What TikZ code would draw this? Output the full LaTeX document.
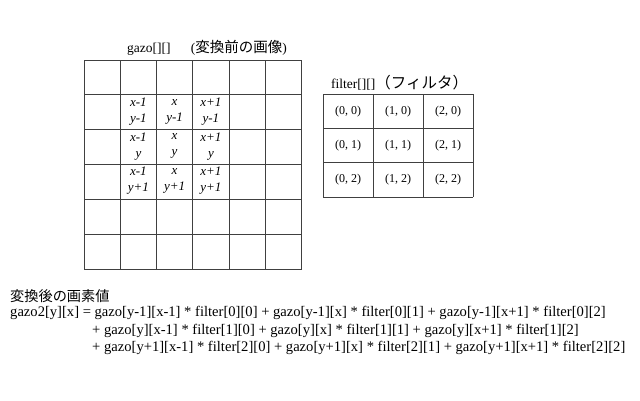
\documentclass[tikz,border=0pt]{standalone}
\usepackage{fontspec}
\setmainfont{Liberation Serif}
\newfontfamily\jp{Noto Sans CJK JP}
\begin{document}
\begin{tikzpicture}[x=1pt,y=-1pt,
  gline/.style={draw=black!75,line width=0.8pt},
  title/.style={font=\fontsize{13.5}{15}\selectfont,inner sep=0pt,anchor=west},
  cellt/.style={font=\fontsize{13}{16}\selectfont\itshape,align=center,inner sep=0pt},
  fcell/.style={font=\fontsize{12}{14}\selectfont,inner sep=0pt},
  formula/.style={font=\fontsize{14.6}{17}\selectfont,inner sep=0pt,anchor=west}]
\useasboundingbox (0,0) rectangle (640,400);
% gazo grid
\foreach \i in {0,...,6} {
  \draw[gline] ({84+36.25*\i},60) -- ({84+36.25*\i},269);
  \draw[gline] (84,{60+34.83*\i}) -- (301.5,{60+34.83*\i});
}
\node[title] (gt) at (127,48) {gazo[][]\hspace{1.5em}({\jp\fontsize{14.5}{15}\selectfont 変換前の画像})};
% cell labels
\node[cellt] (c11) at (138.4,111.5) {x-1\\y-1};
\node[cellt] (c21) at (174.6,111.5) {x\\y-1};
\node[cellt] (c31) at (210.9,111.5) {x+1\\y-1};
\node[cellt] (c12) at (138.4,146.3) {x-1\\y};
\node[cellt] (c22) at (174.6,146.3) {x\\y};
\node[cellt] (c32) at (210.9,146.3) {x+1\\y};
\node[cellt] (c13) at (138.4,181.1) {x-1\\y+1};
\node[cellt] (c23) at (174.6,181.1) {x\\y+1};
\node[cellt] (c33) at (210.9,181.1) {x+1\\y+1};
% filter grid
\foreach \i in {0,...,3} {
  \draw[gline] ({323+50*\i},94) -- ({323+50*\i},197);
  \draw[gline] (323,{94+34.33*\i}) -- (473,{94+34.33*\i});
}
\node[title] (ft) at (331,83) {filter[][]{\jp\fontsize{15.5}{16}\selectfont （フィルタ）}};
\foreach \c in {0,1,2} {
  \foreach \r in {0,1,2} {
    \node[fcell] (f\c\r) at ({348+50*\c},{111.2+34.33*\r}) {(\c, \r)};
  }
}
% formula
\node[formula] (ht) at (10,296) {{\jp\fontsize{14.2}{15}\selectfont 変換後の画素値}};
\node[formula] (l1) at (10,313) {gazo2[y][x] = gazo[y-1][x-1] * filter[0][0] + gazo[y-1][x] * filter[0][1] + gazo[y-1][x+1] * filter[0][2]};
\node[formula] (l2) at (92,330.5) {+ gazo[y][x-1] * filter[1][0] + gazo[y][x] * filter[1][1] + gazo[y][x+1] * filter[1][2]};
\node[formula] (l3) at (92,348) {+ gazo[y+1][x-1] * filter[2][0] + gazo[y+1][x] * filter[2][1] + gazo[y+1][x+1] * filter[2][2]};
\end{tikzpicture}
\end{document}
